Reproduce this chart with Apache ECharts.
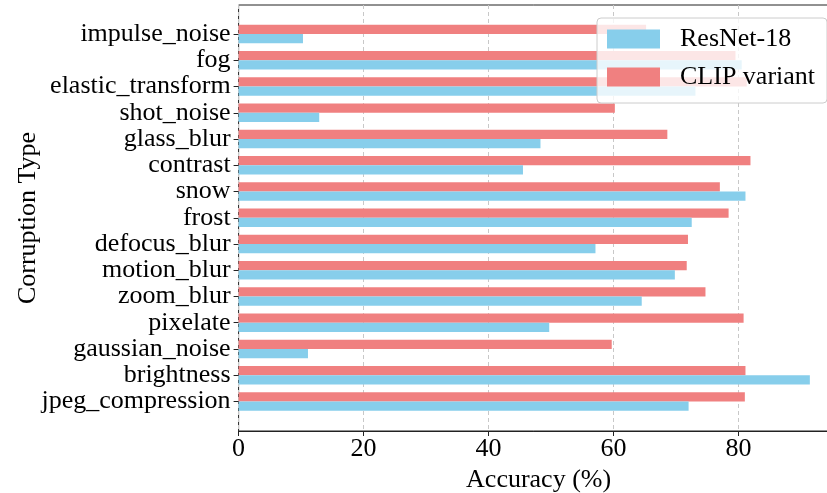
<!DOCTYPE html>
<html>
<head>
<meta charset="utf-8">
<script src="https://cdn.jsdelivr.net/npm/echarts@6/dist/echarts.min.js"></script>
<style>
  html, body { margin: 0; padding: 0; background: #ffffff; }
  #chart { width: 827px; height: 493px; }
</style>
</head>
<body>
<div id="chart"></div>
<script>
// Corruption types, listed from the bottom of the axis to the top
const categories = [
  'jpeg_compression', 'brightness', 'gaussian_noise', 'pixelate', 'zoom_blur',
  'motion_blur', 'defocus_blur', 'frost', 'snow', 'contrast',
  'glass_blur', 'shot_noise', 'elastic_transform', 'fog', 'impulse_noise'
];

// Accuracy (%) per corruption type
const resnet18 = [72.0, 91.4, 11.1, 49.7, 64.5, 69.8, 57.1, 72.5, 81.1, 45.5, 48.3, 12.9, 73.1, 80.5, 10.3];
const clipVariant = [81.0, 81.1, 59.7, 80.8, 74.7, 71.7, 71.9, 78.4, 77.0, 81.9, 68.6, 60.2, 81.3, 79.5, 65.2];

const seriesNames = ['ResNet-18', 'CLIP variant'];
const xTicks = [0, 20, 40, 60, 80];

const FONT = 'Liberation Serif';
const INK = '#000000';
const SPINE = '#222222';

const chart = echarts.init(document.getElementById('chart'), null, { renderer: 'canvas' });

const option = {
  animation: false,
  backgroundColor: '#ffffff',
  grid: [
    // outer frame: spines, ticks and dashed gridlines (runs past the right edge)
    { left: 238.6, width: 600, top: 5, bottom: 62, show: true, outerBoundsMode: 'none',
      containLabel: false, borderColor: SPINE, borderWidth: 1, backgroundColor: 'transparent' },
    // bar area, inset so each category band sits inside the frame margins
    { left: 238.6, width: 600, top: 20.9, bottom: 78.4, outerBoundsMode: 'none', containLabel: false }
  ],
  xAxis: [
    {
      gridIndex: 0, type: 'value', min: 0, max: 96, interval: 20,
      name: 'Accuracy (%)', nameLocation: 'middle', nameGap: 25,
      nameTextStyle: { fontFamily: FONT, fontSize: 26, color: INK },
      axisLine: { show: true, lineStyle: { color: SPINE, width: 1 } },
      axisTick: { show: true, length: 5, lineStyle: { color: SPINE } },
      axisLabel: {
        fontFamily: FONT, fontSize: 26, color: INK, margin: 5, showMaxLabel: false,
        formatter: v => (xTicks.indexOf(v) >= 0 ? String(v) : '')
      },
      splitLine: { show: true, lineStyle: { color: '#c8c8c8', type: [4, 3], width: 1 } }
    },
    {
      gridIndex: 1, type: 'value', min: 0, max: 96, show: false,
      splitLine: { show: false }
    }
  ],
  yAxis: [
    {
      gridIndex: 0, type: 'value', min: 0, max: 1,
      name: 'Corruption Type', nameLocation: 'middle', nameRotate: 90, nameGap: 197,
      nameTextStyle: { fontFamily: FONT, fontSize: 26, color: INK },
      axisLine: { show: false }, axisTick: { show: false }, axisLabel: { show: false },
      splitLine: { show: false }
    },
    {
      gridIndex: 1, type: 'category', data: categories,
      axisLine: { show: false },
      axisTick: { show: true, alignWithLabel: true, interval: 0, length: 5, lineStyle: { color: SPINE } },
      axisLabel: { fontFamily: FONT, fontSize: 26, color: INK, margin: 8, interval: 0, padding: [5, 0, 0, 0] },
      splitLine: { show: false }
    }
  ],
  legend: {
    orient: 'vertical',
    left: 597, top: 18,
    data: seriesNames,
    icon: 'rect',
    itemWidth: 53, itemHeight: 19, itemGap: 12,
    padding: [8, 12, 13, 10],
    backgroundColor: 'rgba(255,255,255,0.8)',
    borderColor: '#cccccc', borderWidth: 1, borderRadius: 4,
    textStyle: { fontFamily: FONT, fontSize: 26, color: INK, padding: [0, 0, 0, 15] }
  },
  // CLIP bars sit above the ResNet-18 bars within each category band
  series: [
    {
      name: seriesNames[1], type: 'bar', xAxisIndex: 1, yAxisIndex: 1,
      data: clipVariant, barWidth: 9.2, barGap: '0%',
      itemStyle: { color: '#F08080' }
    },
    {
      name: seriesNames[0], type: 'bar', xAxisIndex: 1, yAxisIndex: 1,
      data: resnet18, barWidth: 9.2, barGap: '0%',
      itemStyle: { color: '#87CEEB' }
    }
  ]
};

chart.setOption(option);
</script>
</body>
</html>
